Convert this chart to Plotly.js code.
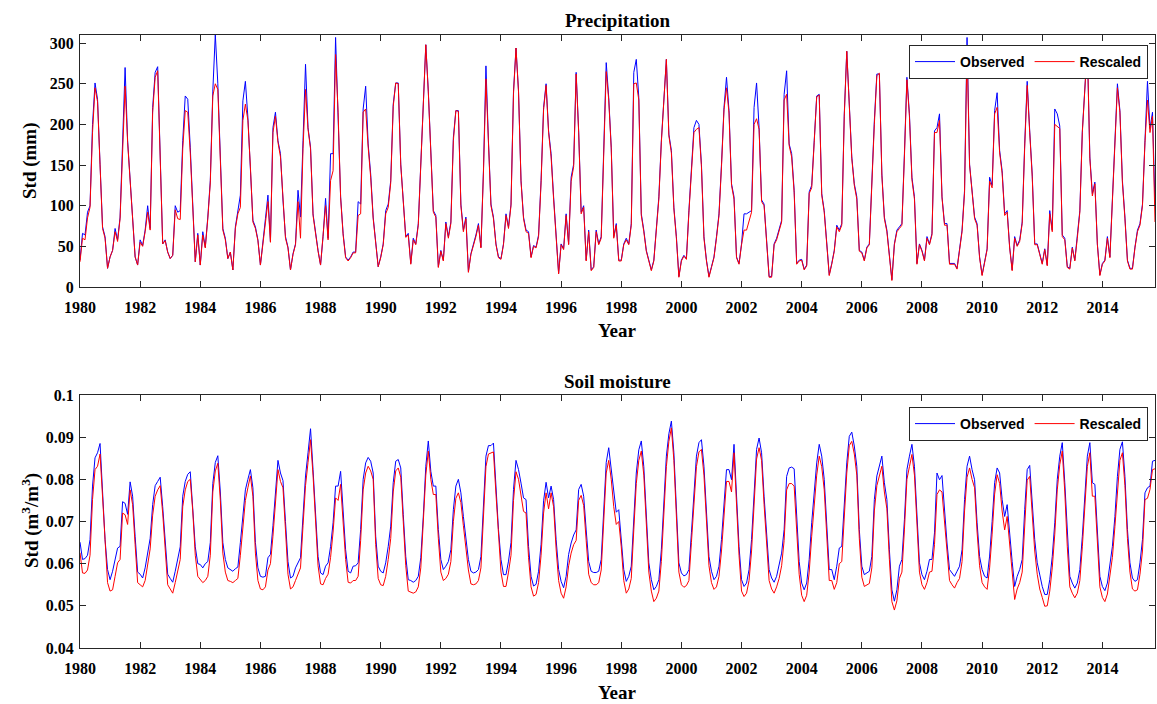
<!DOCTYPE html>
<html>
<head>
<meta charset="utf-8">
<script src="https://cdn.plot.ly/plotly-3.0.1.min.js"></script>
<style>html,body{margin:0;padding:0;background:#fff;}#chart{width:1157px;height:704px;}</style>
</head>
<body>
<div id="chart"></div>
<script>
// ---- Data (monthly, Jan 1980 – Oct 2015) ----
const startYear = 1980;
const xTickValues = [1980,1982,1984,1986,1988,1990,1992,1994,1996,1998,2000,2002,2004,2006,2008,2010,2012,2014];
const legendNames = ["Observed", "Rescaled"];

const precipObserved = [
 33,66,64,92,100,200,251,231,151,74,62,23,
 37,45,72,58,86,180,270,180,131,74,37,27,
 58,51,70,100,72,221,264,271,151,53,58,43,
 35,39,100,92,94,180,235,231,172,90,31,66,
 27,68,49,86,131,241,311,250,151,72,60,35,
 43,21,74,94,113,229,253,209,151,82,74,58,
 27,53,84,113,56,196,215,180,164,107,62,49,
 21,41,53,119,86,180,274,196,172,90,66,45,
 27,62,109,60,164,164,307,217,111,66,37,33,
 37,43,43,105,102,219,247,176,139,86,53,25,
 37,53,94,102,131,225,251,251,151,111,62,66,
 29,60,53,78,151,233,298,241,172,94,88,25,
 45,33,80,62,80,184,217,217,102,70,86,19,
 41,51,64,78,49,143,272,180,102,86,53,37,
 35,53,90,74,102,241,294,241,131,86,70,68,
 37,51,49,64,131,221,250,192,164,111,62,17,
 53,47,90,53,135,151,264,192,92,100,33,70,
 21,25,70,53,62,164,276,233,172,62,78,33,
 33,53,60,53,78,264,280,233,90,70,45,33,
 21,33,70,111,180,233,280,188,168,98,62,13,
 33,39,35,94,139,196,205,200,151,62,33,13,
 25,37,62,90,151,221,258,217,127,111,37,29,
 53,90,90,92,94,221,251,196,107,102,58,13,
 13,53,60,70,82,237,266,176,164,119,29,33,
 34,22,27,117,125,180,235,237,115,94,49,15,
 29,45,76,70,78,213,290,233,160,127,111,45,
 43,33,49,53,135,205,262,262,139,86,70,37,
 9,53,70,74,78,164,258,213,135,111,29,53,
 45,33,62,53,66,192,196,213,111,78,78,29,
 29,29,23,45,70,119,307,151,119,86,78,37,
 15,33,47,135,125,217,239,168,143,90,94,49,
 21,62,51,58,80,176,253,192,139,53,53,41,
 29,47,27,94,70,219,213,198,64,60,25,23,
 49,33,62,94,192,253,296,160,115,129,53,15,
 29,33,62,37,111,192,250,217,131,86,33,23,
 23,49,70,78,102,180,253,195,215,100
];

const precipRescaled = [
 31,60,58,85,98,190,245,228,150,72,60,23,
 37,45,68,56,84,175,247,178,130,72,37,27,
 55,50,68,92,70,215,258,266,150,53,57,43,
 35,39,95,84,83,170,217,215,165,88,31,64,
 27,64,48,84,128,235,250,243,150,70,58,35,
 43,21,72,90,98,205,225,205,148,80,72,57,
 27,52,80,105,55,190,210,178,160,105,60,48,
 21,40,52,105,60,170,243,194,170,88,64,44,
 27,60,100,58,131,143,286,215,110,64,36,32,
 36,42,42,88,90,215,219,172,135,84,52,25,
 36,52,90,98,128,222,251,250,150,110,61,64,
 28,58,52,76,148,230,298,240,170,92,86,24,
 44,32,78,60,78,180,217,216,100,68,84,18,
 40,50,62,76,48,140,256,178,100,84,52,36,
 34,52,88,72,100,238,294,240,130,84,68,66,
 36,50,48,62,128,218,248,190,160,108,60,16,
 52,46,88,52,130,148,262,190,90,98,32,68,
 20,24,68,52,60,160,265,230,170,60,76,32,
 32,52,58,52,76,250,251,230,88,68,44,32,
 20,32,68,108,178,230,280,186,165,96,60,12,
 32,38,34,92,136,190,194,196,148,60,32,12,
 24,36,60,88,148,218,245,214,125,108,36,28,
 52,70,70,80,92,200,207,194,105,100,56,12,
 12,52,58,68,80,230,237,174,160,116,28,32,
 33,21,26,115,122,178,234,236,113,92,48,14,
 28,44,74,68,76,210,290,230,158,125,108,44,
 42,32,48,52,132,200,260,263,137,84,68,36,
 8,52,68,72,76,160,255,210,132,108,28,52,
 44,32,60,52,64,190,190,205,110,76,76,28,
 28,28,22,44,68,116,294,150,116,84,76,36,
 14,32,46,130,122,213,221,165,140,88,92,48,
 20,60,50,56,78,172,248,190,136,52,52,40,
 28,46,26,90,68,200,198,195,62,58,24,22,
 48,32,60,92,190,250,296,158,112,127,52,14,
 28,32,60,36,108,190,245,215,128,84,32,22,
 22,48,68,76,100,178,230,190,210,80
];

const soilObserved = [
 .0651,.0610,.0612,.0620,.0657,.0784,.0851,.0863,.0885,.0752,.0657,.0586,
 .0562,.0582,.0614,.0637,.0641,.0747,.0743,.0717,.0794,.0760,.0665,.0580,
 .0575,.0566,.0590,.0625,.0660,.0740,.0785,.0795,.0805,.0735,.0650,.0575,
 .0565,.0556,.0582,.0610,.0640,.0760,.0795,.0812,.0818,.0730,.0640,.0600,
 .0598,.0590,.0600,.0605,.0650,.0790,.0840,.0856,.0770,.0650,.0610,.0590,
 .0585,.0582,.0588,.0592,.0650,.0720,.0775,.0800,.0823,.0780,.0650,.0590,
 .0570,.0568,.0570,.0614,.0622,.0690,.0775,.0845,.0815,.0797,.0700,.0605,
 .0566,.0570,.0590,.0602,.0614,.0713,.0808,.0863,.0920,.0823,.0713,.0617,
 .0578,.0574,.0594,.0602,.0641,.0697,.0784,.0784,.0819,.0720,.0633,.0582,
 .0578,.0594,.0595,.0602,.0681,.0800,.0839,.0852,.0843,.0815,.0665,.0594,
 .0582,.0578,.0602,.0641,.0689,.0792,.0843,.0847,.0827,.0717,.0617,.0562,
 .0560,.0556,.0560,.0570,.0614,.0713,.0831,.0891,.0819,.0784,.0784,.0681,
 .0610,.0586,.0594,.0605,.0633,.0728,.0784,.0800,.0768,.0712,.0665,.0610,
 .0582,.0578,.0580,.0586,.0617,.0736,.0855,.0880,.0880,.0886,.0784,.0681,
 .0610,.0574,.0574,.0606,.0650,.0776,.0845,.0823,.0791,.0756,.0752,.0641,
 .0570,.0547,.0551,.0582,.0646,.0749,.0793,.0756,.0784,.0752,.0657,.0586,
 .0558,.0543,.0570,.0622,.0649,.0668,.0680,.0776,.0788,.0760,.0680,.0605,
 .0582,.0579,.0579,.0582,.0610,.0713,.0840,.0875,.0823,.0760,.0722,.0728,
 .0660,.0586,.0558,.0570,.0594,.0705,.0815,.0870,.0891,.0830,.0697,.0602,
 .0562,.0538,.0546,.0562,.0633,.0752,.0855,.0908,.0938,.0863,.0720,.0602,
 .0578,.0571,.0574,.0586,.0673,.0776,.0855,.0887,.0894,.0831,.0728,.0617,
 .0582,.0562,.0570,.0594,.0657,.0752,.0823,.0823,.0799,.0883,.0752,.0641,
 .0562,.0546,.0554,.0586,.0657,.0776,.0871,.0898,.0863,.0760,.0665,.0586,
 .0566,.0556,.0570,.0594,.0625,.0681,.0807,.0827,.0829,.0825,.0700,.0605,
 .0554,.0538,.0554,.0610,.0697,.0776,.0839,.0883,.0855,.0800,.0681,.0586,
 .0586,.0562,.0594,.0637,.0641,.0752,.0839,.0902,.0912,.0879,.0831,.0681,
 .0594,.0574,.0578,.0582,.0617,.0752,.0808,.0831,.0855,.0792,.0752,.0633,
 .0538,.0511,.0538,.0594,.0610,.0704,.0823,.0855,.0883,.0831,.0713,.0602,
 .0574,.0562,.0582,.0610,.0610,.0673,.0815,.0799,.0809,.0720,.0649,.0586,
 .0578,.0570,.0582,.0594,.0633,.0752,.0831,.0855,.0823,.0799,.0697,.0617,
 .0586,.0570,.0566,.0618,.0700,.0792,.0827,.0815,.0752,.0712,.0740,.0665,
 .0605,.0546,.0570,.0586,.0610,.0728,.0823,.0833,.0752,.0657,.0602,.0570,
 .0546,.0527,.0527,.0562,.0617,.0697,.0800,.0855,.0887,.0792,.0665,.0570,
 .0554,.0542,.0554,.0586,.0665,.0776,.0855,.0887,.0792,.0788,.0673,.0570,
 .0546,.0536,.0554,.0594,.0641,.0712,.0807,.0871,.0889,.0807,.0681,.0602,
 .0566,.0558,.0562,.0602,.0657,.0768,.0780,.0784,.0843,.0845
];

const soilRescaled = [
 .0626,.0578,.0577,.0585,.0620,.0752,.0823,.0831,.0860,.0752,.0641,.0555,
 .0535,.0538,.0570,.0602,.0610,.0720,.0716,.0693,.0775,.0740,.0645,.0555,
 .0550,.0545,.0560,.0595,.0635,.0715,.0760,.0775,.0785,.0720,.0630,.0550,
 .0540,.0530,.0555,.0580,.0610,.0735,.0775,.0795,.0800,.0725,.0620,.0570,
 .0562,.0555,.0560,.0570,.0620,.0770,.0820,.0838,.0750,.0625,.0580,.0560,
 .0558,.0555,.0560,.0565,.0620,.0695,.0750,.0780,.0808,.0760,.0625,.0560,
 .0540,.0538,.0545,.0585,.0600,.0665,.0750,.0823,.0795,.0780,.0680,.0575,
 .0540,.0545,.0560,.0575,.0590,.0690,.0785,.0840,.0894,.0810,.0695,.0595,
 .0552,.0550,.0565,.0575,.0615,.0675,.0756,.0750,.0788,.0700,.0610,.0556,
 .0554,.0560,.0560,.0570,.0655,.0775,.0815,.0831,.0820,.0800,.0645,.0565,
 .0550,.0548,.0570,.0610,.0660,.0770,.0820,.0827,.0805,.0700,.0595,.0535,
 .0532,.0530,.0533,.0545,.0590,.0690,.0810,.0867,.0800,.0764,.0764,.0660,
 .0580,.0560,.0565,.0575,.0605,.0700,.0755,.0768,.0745,.0690,.0640,.0585,
 .0552,.0550,.0552,.0560,.0590,.0710,.0830,.0860,.0862,.0865,.0765,.0660,
 .0580,.0546,.0546,.0580,.0620,.0750,.0818,.0800,.0765,.0724,.0720,.0615,
 .0545,.0523,.0527,.0555,.0620,.0720,.0768,.0730,.0768,.0735,.0635,.0560,
 .0530,.0518,.0545,.0595,.0625,.0645,.0655,.0750,.0762,.0738,.0655,.0575,
 .0555,.0550,.0550,.0555,.0585,.0690,.0815,.0845,.0800,.0735,.0693,.0700,
 .0640,.0560,.0530,.0540,.0565,.0680,.0790,.0845,.0867,.0810,.0680,.0580,
 .0535,.0510,.0518,.0535,.0605,.0725,.0830,.0890,.0922,.0845,.0700,.0580,
 .0550,.0544,.0548,.0560,.0650,.0750,.0830,.0865,.0871,.0810,.0705,.0595,
 .0555,.0539,.0545,.0570,.0630,.0725,.0795,.0795,.0770,.0863,.0735,.0620,
 .0535,.0522,.0530,.0560,.0630,.0750,.0848,.0875,.0845,.0740,.0640,.0560,
 .0540,.0530,.0545,.0565,.0595,.0655,.0775,.0790,.0790,.0784,.0680,.0575,
 .0525,.0510,.0525,.0580,.0665,.0748,.0810,.0855,.0830,.0775,.0655,.0560,
 .0560,.0539,.0555,.0600,.0605,.0725,.0815,.0880,.0890,.0860,.0810,.0660,
 .0568,.0546,.0550,.0553,.0590,.0725,.0785,.0805,.0831,.0770,.0730,.0610,
 .0510,.0490,.0512,.0565,.0580,.0680,.0800,.0830,.0859,.0810,.0690,.0580,
 .0550,.0539,.0555,.0580,.0582,.0645,.0764,.0775,.0770,.0700,.0625,.0560,
 .0550,.0542,.0555,.0565,.0605,.0725,.0805,.0827,.0800,.0780,.0675,.0595,
 .0555,.0545,.0539,.0590,.0670,.0765,.0811,.0790,.0725,.0680,.0712,.0640,
 .0575,.0515,.0540,.0555,.0580,.0700,.0798,.0807,.0728,.0630,.0575,.0540,
 .0520,.0499,.0500,.0535,.0590,.0670,.0775,.0835,.0867,.0770,.0640,.0545,
 .0530,.0519,.0530,.0560,.0640,.0750,.0830,.0863,.0760,.0760,.0650,.0545,
 .0520,.0510,.0528,.0568,.0615,.0688,.0780,.0845,.0863,.0785,.0660,.0580,
 .0540,.0535,.0538,.0575,.0630,.0752,.0755,.0776,.0823,.0825
];

// time axis (decimal years, one value per month)
const months = precipObserved.map((_, i) => startYear + i / 12);

const serif = 'Liberation Serif, Times New Roman, serif';
const sans = 'Liberation Sans, Arial, sans-serif';
const axisColor = '#262626';

function xAxis(anchor) {
  return {
    anchor: anchor, domain: [0, 1], range: [1980, 2015.75],
    tickvals: xTickValues, ticktext: xTickValues.map(String),
    ticks: 'inside', ticklen: 6, tickwidth: 1, tickcolor: axisColor,
    showline: true, linecolor: axisColor, linewidth: 1, mirror: 'ticks',
    showgrid: false, zeroline: false, ticklabelstandoff: 6,
    tickfont: {family: serif, size: 16, color: '#000', weight: 'bold'}
  };
}
function yAxis(anchor, domain, range, dtick) {
  return {
    anchor: anchor, domain: domain, range: range, dtick: dtick, tick0: range[0],
    ticks: 'inside', ticklen: 6, tickwidth: 1, tickcolor: axisColor,
    showline: true, linecolor: axisColor, linewidth: 1, mirror: 'ticks',
    showgrid: false, zeroline: false, ticklabelstandoff: 2,
    tickfont: {family: serif, size: 16, color: '#000', weight: 'bold'}
  };
}

const traces = [
  {x: months, y: precipObserved, type: 'scatter', mode: 'lines', name: legendNames[0],
   line: {color: '#0000ff', width: 1}, xaxis: 'x', yaxis: 'y', legend: 'legend'},
  {x: months, y: precipRescaled, type: 'scatter', mode: 'lines', name: legendNames[1],
   line: {color: '#ff0000', width: 1}, xaxis: 'x', yaxis: 'y', legend: 'legend'},
  {x: months, y: soilObserved, type: 'scatter', mode: 'lines', name: legendNames[0],
   line: {color: '#0000ff', width: 1}, xaxis: 'x2', yaxis: 'y2', legend: 'legend2'},
  {x: months, y: soilRescaled, type: 'scatter', mode: 'lines', name: legendNames[1],
   line: {color: '#ff0000', width: 1}, xaxis: 'x2', yaxis: 'y2', legend: 'legend2'}
];

const H = 704, T = 35, B = 56, PH = H - T - B;
const py = (pix) => (H - B - pix) / PH;

const legendStyle = (yPix) => ({
  orientation: 'h', x: 0.9935, xanchor: 'right', y: py(yPix), yanchor: 'top',
  bgcolor: '#ffffff', bordercolor: axisColor, borderwidth: 1,
  font: {family: sans, size: 14, color: '#000', weight: 'bold'},
  itemwidth: 40, tracegroupgap: 0
});

const titleFont = {family: serif, size: 19, color: '#000', weight: 'bold'};

const layout = {
  width: 1157, height: 704,
  paper_bgcolor: '#ffffff', plot_bgcolor: '#ffffff',
  margin: {l: 80, r: 2, t: T, b: B},
  showlegend: true,
  xaxis: xAxis('y'),
  yaxis: yAxis('x', [py(287), 1], [0, 310], 50),
  xaxis2: xAxis('y2'),
  yaxis2: yAxis('x2', [0, py(395)], [0.04, 0.1], 0.01),
  legend: legendStyle(45),
  legend2: legendStyle(407),
  annotations: [
    {text: 'Precipitation', xref: 'paper', yref: 'paper', x: 0.5, y: py(20), xanchor: 'center', yanchor: 'middle', showarrow: false, font: titleFont},
    {text: 'Soil moisture', xref: 'paper', yref: 'paper', x: 0.5, y: py(381), xanchor: 'center', yanchor: 'middle', showarrow: false, font: titleFont},
    {text: 'Year', xref: 'paper', yref: 'paper', x: 0.5, y: py(330), xanchor: 'center', yanchor: 'middle', showarrow: false, font: titleFont},
    {text: 'Year', xref: 'paper', yref: 'paper', x: 0.5, y: py(692), xanchor: 'center', yanchor: 'middle', showarrow: false, font: titleFont},
    {text: 'Std (mm)', xref: 'paper', yref: 'paper', x: 0, xshift: -50, y: py(161), xanchor: 'center', yanchor: 'middle', textangle: -90, showarrow: false, font: titleFont},
    {text: 'Std (m<sup>3</sup>/m<sup>3</sup>)', xref: 'paper', yref: 'paper', x: 0, xshift: -50, y: py(521), xanchor: 'center', yanchor: 'middle', textangle: -90, showarrow: false, font: titleFont}
  ]
};

Plotly.newPlot('chart', traces, layout, {staticPlot: true, displayModeBar: false});
</script>
</body>
</html>
